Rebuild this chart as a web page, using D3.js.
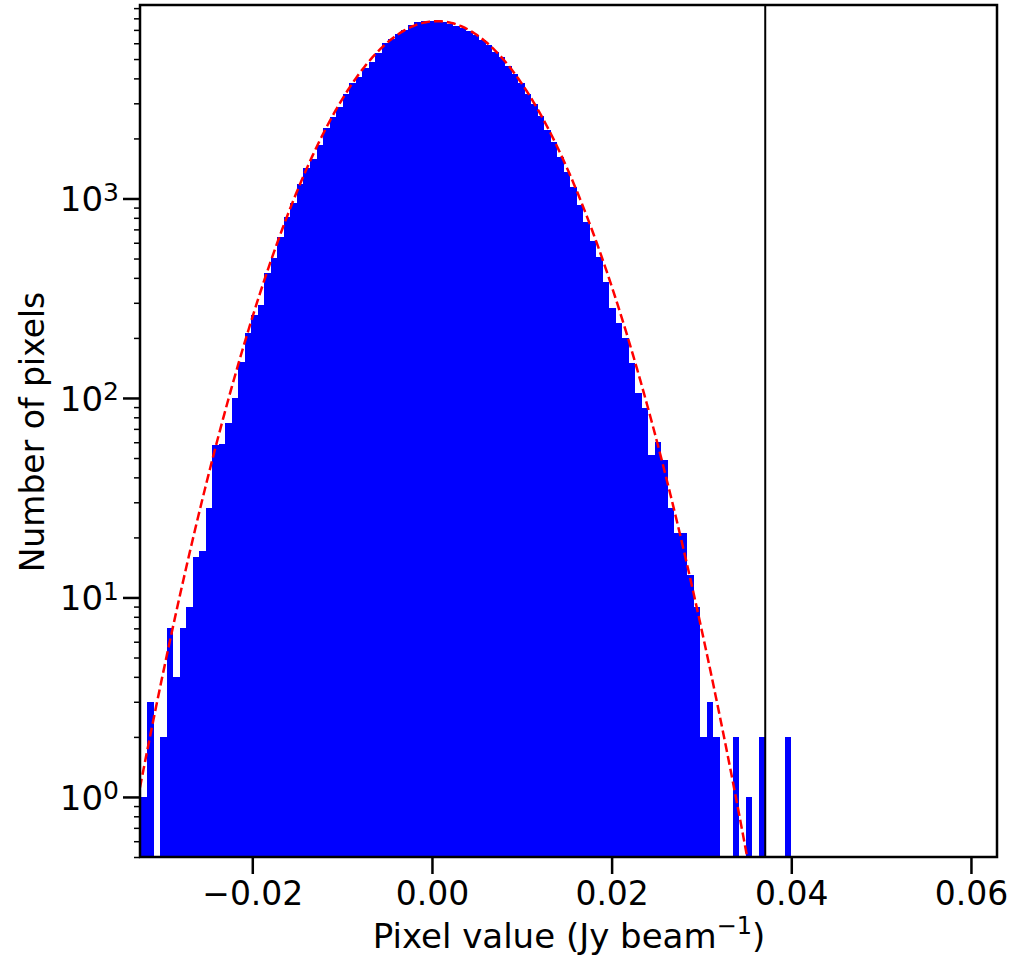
<!DOCTYPE html>
<html lang="en">
<head>
<meta charset="UTF-8">
<title>Pixel value histogram</title>
<style>
  body { margin: 0; background: #fff; }
  text { font-family: "DejaVu Sans", sans-serif; fill: #000; }
</style>
</head>
<body>
<svg id="chart" width="1015" height="955"></svg>
<script src="https://cdn.jsdelivr.net/npm/d3@7"></script>
<script>
// histogram bins (100 equal bins between binLo and binHi)
var binLo = -0.0324, binHi = 0.0400;
var counts = [
    1, 3, 0, 2, 7, 4, 7, 9, 16, 17,
    28, 58, 59, 75, 100, 151, 211, 260, 292, 421,
    501, 641, 810, 944, 1180, 1417, 1572, 1854, 2249, 2570,
    2884, 3341, 3777, 4081, 4494, 4853, 5346, 5997, 6280, 6677,
    6993, 7380, 7630, 7758, 7790, 7758, 7640, 7516, 7323, 7128,
    6912, 6600, 6230, 5877, 5421, 5100, 4616, 4200, 3800, 3341,
    2960, 2580, 2200, 1910, 1618, 1360, 1138, 930, 765, 610,
    506, 383, 282, 238, 199, 149, 106, 89, 52, 60,
    49, 28, 21, 21, 13, 9, 2, 3, 2, 0,
    0, 2, 0, 1, 0, 2, 0, 0, 0, 2
];

// gaussian fit parameters
var fitAmp = 7745, fitMean = 0.00056, fitSigma = 0.00786;

// vertical cut line
var cutValue = 0.0371;

var xTicks = [-0.02, 0, 0.02, 0.04, 0.06];
var xTickLabels = ["\u22120.02", "0.00", "0.02", "0.04", "0.06"];
var yTicks = [1, 10, 100, 1000];
var yTickExp = ["0", "1", "2", "3"];

var xMin = -0.0325, xMax = 0.0629;
var yMin = 0.5, yMax = 9330;

var pLeft = 140, pRight = 997, pTop = 5, pBottom = 857;

var svg = d3.select("#chart");

var x = d3.scaleLinear().domain([xMin, xMax]).range([pLeft, pRight]);
var y = d3.scaleLog().domain([yMin, yMax]).range([pBottom, pTop]);

svg.append("clipPath").attr("id", "plot")
   .append("rect")
   .attr("x", pLeft).attr("y", pTop)
   .attr("width", pRight - pLeft).attr("height", pBottom - pTop);

var binW = (binHi - binLo) / counts.length;
var bins = counts.map(function(c, i) {
    return { x0: binLo + i * binW, x1: binLo + (i + 1) * binW, n: c };
});

var plot = svg.append("g").attr("clip-path", "url(#plot)");

plot.selectAll(".bar")
    .data(bins.filter(function(d) { return d.n > 0; }))
    .enter().append("rect")
    .attr("class", "bar")
    .attr("x", function(d) { return x(d.x0); })
    .attr("width", function(d) { return x(d.x1) - x(d.x0); })
    .attr("y", function(d) { return y(d.n); })
    .attr("height", function(d) { return pBottom - y(d.n); })
    .attr("fill", "#0000ff")
    .attr("shape-rendering", "crispEdges");

// fitted gaussian
var fitX = d3.range(0, 401).map(function(i) { return xMin + i * (binHi + 0.002 - xMin) / 400; });
var fit = d3.line()
    .x(function(d) { return x(d); })
    .y(function(d) {
        var v = fitAmp * Math.exp(-Math.pow(d - fitMean, 2) / (2 * fitSigma * fitSigma));
        return y(Math.max(v, 0.05));
    });

plot.append("path")
    .datum(fitX)
    .attr("d", fit)
    .attr("fill", "none")
    .attr("stroke", "#ff0000")
    .attr("stroke-width", 2.5)
    .attr("stroke-dasharray", "9,4");

svg.append("line")
   .attr("x1", x(cutValue)).attr("x2", x(cutValue))
   .attr("y1", pTop).attr("y2", pBottom)
   .attr("stroke", "#000").attr("stroke-width", 2);

// x axis
var gx = svg.append("g")
    .attr("transform", "translate(0," + pBottom + ")")
    .call(d3.axisBottom(x).tickValues(xTicks).tickSize(17).tickPadding(8)
          .tickFormat(function(d, i) { return xTickLabels[i]; }));
gx.select(".domain").remove();
gx.selectAll(".tick line").attr("stroke", "#000").attr("stroke-width", 2.5);
gx.selectAll(".tick text").style("font-size", "33px").style("font-family", "DejaVu Sans");

// y axis, minor ticks first
var minor = y.ticks().filter(function(d) { return yTicks.indexOf(d) < 0; });
var gym = svg.append("g")
    .attr("transform", "translate(" + pLeft + ",0)")
    .call(d3.axisLeft(y).tickValues(minor).tickSize(6).tickFormat(""));
gym.select(".domain").remove();
gym.selectAll(".tick line").attr("stroke", "#000").attr("stroke-width", 1.5);

var gy = svg.append("g")
    .attr("transform", "translate(" + pLeft + ",0)")
    .call(d3.axisLeft(y).tickValues(yTicks).tickSize(17).tickPadding(4).tickFormat(""));
gy.select(".domain").remove();
gy.selectAll(".tick line").attr("stroke", "#000").attr("stroke-width", 2.5);
gy.selectAll(".tick text")
  .attr("dy", "0.36em")
  .style("font-size", "34px")
  .style("font-family", "DejaVu Sans")
  .each(function(d, i) {
      var t = d3.select(this);
      t.append("tspan").text("10");
      t.append("tspan").attr("dy", "-0.42em").style("font-size", "25px").text(yTickExp[i]);
  });

// frame
svg.append("rect")
   .attr("x", pLeft).attr("y", pTop)
   .attr("width", pRight - pLeft).attr("height", pBottom - pTop)
   .attr("fill", "none").attr("stroke", "#000").attr("stroke-width", 2.5);

// labels
var xl = svg.append("text")
    .attr("x", 569).attr("y", 948)
    .attr("text-anchor", "middle")
    .style("font-size", "34px");
xl.append("tspan").text("Pixel value (Jy beam");
xl.append("tspan").attr("dy", -14).style("font-size", "24px").text("\u22121");
xl.append("tspan").attr("dy", 14).text(")");

svg.append("text")
   .attr("transform", "translate(44,432) rotate(-90)")
   .attr("text-anchor", "middle")
   .style("font-size", "33px")
   .text("Number of pixels");
</script>
</body>
</html>
